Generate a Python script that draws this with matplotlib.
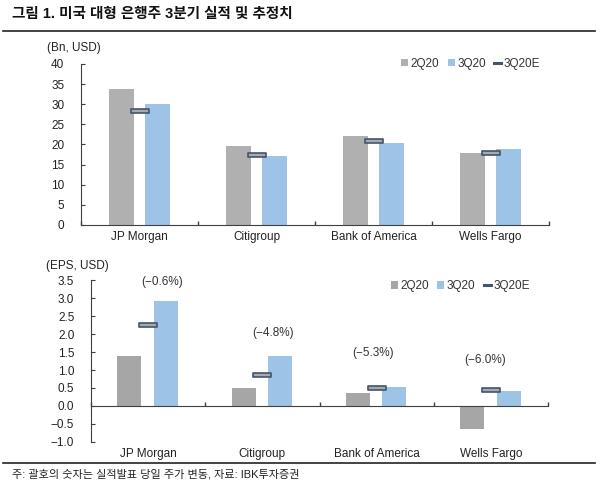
import matplotlib.pyplot as plt
from matplotlib.path import Path
import numpy as np

plt.rcParams['font.family'] = ['Liberation Sans', 'Noto Sans CJK KR', 'DejaVu Sans']
plt.rcParams['axes.unicode_minus'] = True

banks = ["JP Morgan", "Citigroup", "Bank of America", "Wells Fargo"]
series = ["2Q20", "3Q20", "3Q20E"]

rev_2q20 = [33.9, 19.7, 22.2, 17.8]
rev_3q20 = [30.0, 17.2, 20.3, 18.9]
rev_3q20e = [28.3, 17.3, 20.8, 17.9]

eps_2q20 = [1.38, 0.51, 0.37, -0.65]
eps_3q20 = [2.92, 1.40, 0.52, 0.42]
eps_3q20e = [2.24, 0.86, 0.50, 0.44]

price_chg = ["(−0.6%)", "(−4.8%)", "(−5.3%)", "(−6.0%)"]
label_x = [0.12, 1.09, 1.97, 2.95]
label_y = [3.44, 2.03, 1.47, 1.28]

GRAY_TOP = "#B0B0B0"
GRAY_BOT = "#A6A6A6"
BLUE = "#9DC3E6"
EST_FACE = "#A5AAB2"
EST_EDGE = "#44546A"
AXC = "#404040"

# flat rectangle marker for the estimate
est_marker = Path([(-1, -0.28), (1, -0.28), (1, 0.28), (-1, 0.28), (-1, -0.28)],
                  [Path.MOVETO, Path.LINETO, Path.LINETO, Path.LINETO, Path.CLOSEPOLY])

fig = plt.figure(figsize=(6.01, 5.03), dpi=100)

fig.text(0.02, 0.972, "그림 1. 미국 대형 은행주 3분기 실적 및 추정치", fontsize=10.5,
         fontweight='bold', va='center', ha='left', color="#111111")
fig.add_artist(plt.Line2D([0.005, 0.99], [0.938, 0.938], color="#222222", lw=1.2))
fig.add_artist(plt.Line2D([0.005, 0.99], [0.079, 0.079], color="#222222", lw=1.2))
fig.text(0.02, 0.057, "주: 괄호의 숫자는 실적발표 당일 주가 변동, 자료: IBK투자증권",
         fontsize=8, va='center', ha='left', color="#222222")


def draw(ax, v2, v3, ve, ylim, yticks, fmt, unit, unit_xy, leg_xy, off2, gray):
    x = np.arange(len(banks))
    w = 0.21
    b2 = ax.bar(x + off2, v2, width=w, color=gray, zorder=2)
    b3 = ax.bar(x + 0.155, v3, width=w, color=BLUE, zorder=2)
    ax.plot(x, ve, linestyle='none', marker=est_marker, markersize=12.5,
            markerfacecolor=EST_FACE, markeredgecolor=EST_EDGE, markeredgewidth=1.2,
            zorder=3)
    le, = ax.plot([], [], color=EST_EDGE, lw=2.2)
    ax.set_xlim(-0.5, len(banks) - 0.5)
    ax.set_ylim(*ylim)
    ax.set_yticks(yticks)
    ax.set_yticklabels([fmt.format(t).replace("-", "−") for t in yticks])
    for s in ["top", "right"]:
        ax.spines[s].set_visible(False)
    ax.spines["left"].set_color(AXC)
    ax.spines["bottom"].set_color(AXC)
    ax.spines["bottom"].set_position(('data', 0))
    ax.set_xticks(np.arange(len(banks) + 1) - 0.5)
    ax.set_xticklabels([])
    ax.tick_params(axis='x', direction='in', length=3, color=AXC, width=1)
    ax.tick_params(axis='y', direction='in', length=3, color=AXC, labelsize=8.5,
                   pad=12, labelcolor="#222222")
    for i, b in enumerate(banks):
        ax.text(i, -0.04, b, transform=ax.get_xaxis_transform(), ha='center', va='top',
                fontsize=8.5, color="#222222")
    fig.text(unit_xy[0], unit_xy[1], unit, fontsize=8.5, color="#222222",
             ha='left', va='center')
    fig.legend([b2, b3, le], series, loc='center', bbox_to_anchor=leg_xy, ncol=3,
               frameon=False, fontsize=8.5, handlelength=0.6, handleheight=0.6,
               handletextpad=0.2, columnspacing=0.7, labelcolor="#333333")


ax1 = fig.add_axes([0.1348, 0.5527, 0.7787, 0.3201])
draw(ax1, rev_2q20, rev_3q20, rev_3q20e, (0, 40), np.arange(0, 41, 5), "{:.0f}",
     "(Bn, USD)", (0.078, 0.905), (0.783, 0.873), -0.155, GRAY_TOP)

ax2 = fig.add_axes([0.1514, 0.1213, 0.7606, 0.3220])
draw(ax2, eps_2q20, eps_3q20, eps_3q20e, (-1.0, 3.5), np.arange(-1.0, 3.51, 0.5), "{:.1f}",
     "(EPS, USD)", (0.076, 0.472), (0.766, 0.431), -0.165, GRAY_BOT)
ax2.spines["left"].set_bounds(-1.0, 3.5)
for t, lx, ly in zip(price_chg, label_x, label_y):
    ax2.text(lx, ly, t, ha='center', va='center', fontsize=8.5, color="#333333")

fig.savefig("out.png", dpi=100)
